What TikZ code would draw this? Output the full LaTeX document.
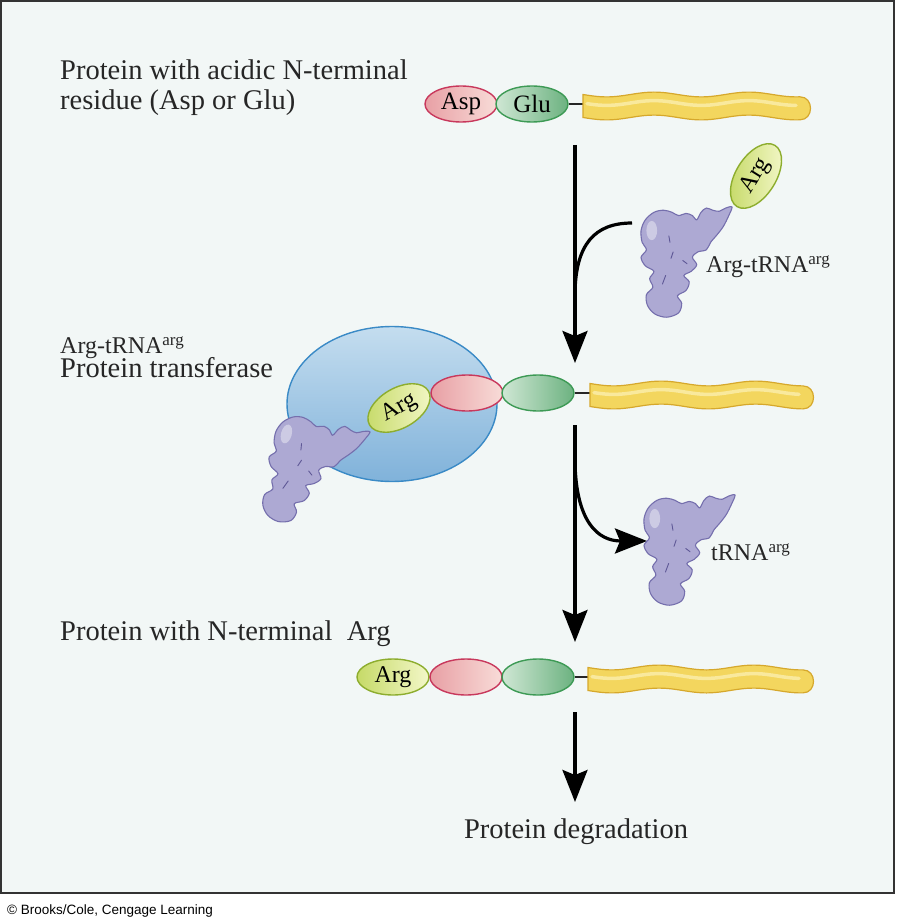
\documentclass[tikz,border=0pt]{standalone}
\usepackage{fontspec}
\setmainfont{Liberation Serif}
\newfontfamily\sanslab{Liberation Sans}
\usetikzlibrary{shapes.geometric,arrows.meta}
\definecolor{bgc}{HTML}{F2F7F6}
\definecolor{aspA}{HTML}{E8A0A5}
\definecolor{aspB}{HTML}{F8DCD8}
\definecolor{aspL}{HTML}{C8385C}
\definecolor{gluA}{HTML}{CFE7D4}
\definecolor{gluB}{HTML}{6CB280}
\definecolor{gluL}{HTML}{3D9A55}
\definecolor{argA}{HTML}{C6DA68}
\definecolor{argB}{HTML}{F3F7C8}
\definecolor{argL}{HTML}{8DAD2E}
\definecolor{rodL}{HTML}{D6A82C}
\definecolor{rodA}{HTML}{F3D65E}
\definecolor{rodB}{HTML}{FDF6C8}
\definecolor{blueL}{HTML}{3A8AC6}
\definecolor{blueA}{HTML}{C4DDEF}
\definecolor{blueB}{HTML}{80B2DA}
\definecolor{trnaF}{HTML}{ADA9D3}
\definecolor{trnaL}{HTML}{756FAD}
\definecolor{trnaM}{HTML}{5E5896}
\newcommand\supl[1]{\raisebox{8pt}{\fontsize{17}{17}\selectfont #1}}
\newcommand\protrod[3]{%
\filldraw[rodst] plot[domain=#1:#2, samples=50, variable=\t] ({\t},{#3-11.5+2.4*sin(3.8*(\t-#1))})
 .. controls ({#2+14},{#3-11.5+2.4*sin(3.8*(#2-#1))}) and ({#2+14},{#3+11.5+2.4*sin(3.8*(#2-#1))}) .. ({#2},{#3+11.5+2.4*sin(3.8*(#2-#1))})
 -- plot[domain=#2:#1, samples=50, variable=\t] ({\t},{#3+11.5+2.4*sin(3.8*(\t-#1))}) -- cycle;
\draw[rodhi] plot[domain={#1+4}:{#2-4}, samples=40, variable=\t] ({\t},{#3-3+2.4*sin(3.8*(\t-#1))});}
\newcommand\trnablob[2]{%
\begin{scope}[shift={#1}, rotate=#2, scale=1.07]
\filldraw[trnast] plot[smooth cycle, tension=0.55] coordinates {
(0,0) (-6,1) (-12,4) (-18,3) (-24,1) (-29,5) (-33,12) (-37,8) (-43,6) (-50,8)
(-56,5) (-64,3) (-73,5) (-81,12) (-85,22) (-84,33) (-80,40) (-85,47) (-81,55)
(-73,60) (-77,67) (-74,75) (-80,82) (-79,92) (-72,100) (-61,103) (-50,99)
(-47,90) (-51,83) (-43,78) (-40,70) (-45,64) (-38,60) (-33,54) (-37,47)
(-32,42) (-24,40) (-20,33) (-14,26) (-8,18) (-3,8)};
\fill[white, opacity=0.4] (-75,22) ellipse (5 and 9);
\draw[trnamk] (-59,27) -- (-58,33);
\draw[trnamk] (-55,42) -- (-57,48);
\draw[trnamk] (-62,64) -- (-65,72);
\draw[trnamk] (-46,50) -- (-42,53);
\end{scope}}
\begin{document}
\begin{tikzpicture}[x=1pt,y=-1pt,
  res/.style={ellipse, draw, line width=1.4pt, minimum width=72pt, minimum height=36pt, inner sep=0pt, font=\fontsize{25}{25}\selectfont},
  asp/.style={res, draw=aspL, left color=aspA, right color=aspB},
  glu/.style={res, draw=gluL, left color=gluA, right color=gluB},
  arg/.style={res, draw=argL, left color=argA, right color=argB, font=\fontsize{24}{24}\selectfont},
  rodst/.style={draw=rodL, line width=1.2pt, fill=rodA},
  rodhi/.style={draw=rodB, line width=3.5pt, line cap=round, opacity=0.6},
  trnast/.style={fill=trnaF, draw=trnaL, line width=1.1pt},
  trnamk/.style={draw=trnaM, line width=0.9pt, line cap=round},
  link/.style={line width=1.6pt, draw=black!85},
  flow/.style={line width=3.2pt, -{Stealth[length=32pt, width=25pt, inset=5pt]}},
  branch/.style={line width=3.2pt},
  lab/.style={anchor=base west, inner sep=0pt, font=\fontsize{28.5}{30}\selectfont, text=black!85},
  slab/.style={anchor=base west, inner sep=0pt, font=\fontsize{24}{26}\selectfont, text=black!85}]
\useasboundingbox (0,0) rectangle (896,920);
\fill[white] (0,0) rectangle (896,920);
\draw[line width=2pt, draw=black!80, fill=bgc] (1,1) rectangle (894,893);

% ---- labels
\node[lab] (t1a) at (60,80) {Protein with acidic N-terminal};
\node[lab] (t1b) at (60,110) {residue (Asp or Glu)};
\node[slab] (t2a) at (60,353) {Arg-tRNA\supl{arg}};
\node[lab] (t2b) at (60,377) {Protein transferase};
\node[lab] (t3) at (60,640) {Protein with N-terminal~ Arg};
\node[lab, anchor=base] (t4) at (576,838) {Protein degradation};
\node[slab] (l1) at (706,272) {Arg-tRNA\supl{arg}};
\node[slab] (l2) at (711,560) {tRNA\supl{arg}};
\node[anchor=base west, inner sep=0pt, font=\sanslab\fontsize{13.5}{14}\selectfont] (cr) at (7,914) {© Brooks/Cole, Cengage Learning};

% ---- row 1
\node[asp] (asp1) at (461,104) {Asp};
\node[glu] (glu1) at (532,104) {Glu};
\coordinate (r1) at (583,104);
\draw[link] (glu1.east) -- (r1);
\protrod{583}{800}{106}

% ---- arrows
\coordinate (a1s) at (575,145);
\coordinate (a1e) at (575,363);
\draw[flow] (a1s) -- (a1e);
\coordinate (b1s) at (632,223);
\coordinate (b1e) at (575,292);
\draw[branch] (b1s) .. controls (594,223) and (576,245) .. (b1e);

\coordinate (a2s) at (575,425);
\coordinate (a2e) at (575,642);
\draw[flow] (a2s) -- (a2e);
\coordinate (b2s) at (575,462);
\coordinate (b2e) at (647,541);
\draw[flow] (b2s) .. controls (576,522) and (598,541) .. (b2e);

\coordinate (a3s) at (575,712);
\coordinate (a3e) at (575,802);
\draw[flow] (a3s) -- (a3e);

% ---- free Arg-tRNA
\trnablob{(732,207)}{0}
\node[arg, rotate=58, minimum width=72pt, minimum height=40pt] (argt) at (756,176) {Arg};

% ---- row 2 (transferase complex)
\node[ellipse, draw=blueL, line width=1.4pt, top color=blueA, bottom color=blueB, minimum width=210pt, minimum height=155pt, inner sep=0pt] (enz) at (392,404) {};
\trnablob{(370,432)}{-15}
\node[arg, rotate=30, minimum width=68pt, minimum height=40pt] (arg2) at (399,408) {Arg};
\node[asp] (asp2) at (467,393) {};
\node[glu] (glu2) at (538,393) {};
\coordinate (r2) at (590,393);
\draw[link] (glu2.east) -- (r2);
\protrod{590}{803}{395}

% ---- released tRNA
\trnablob{(735,495)}{0}

% ---- row 3
\node[arg] (arg3) at (393,677) {Arg};
\node[asp] (asp3) at (466,677) {};
\node[glu] (glu3) at (538,677) {};
\coordinate (r3) at (588,677);
\draw[link] (glu3.east) -- (r3);
\protrod{588}{803}{679}
\end{tikzpicture}
\end{document}
